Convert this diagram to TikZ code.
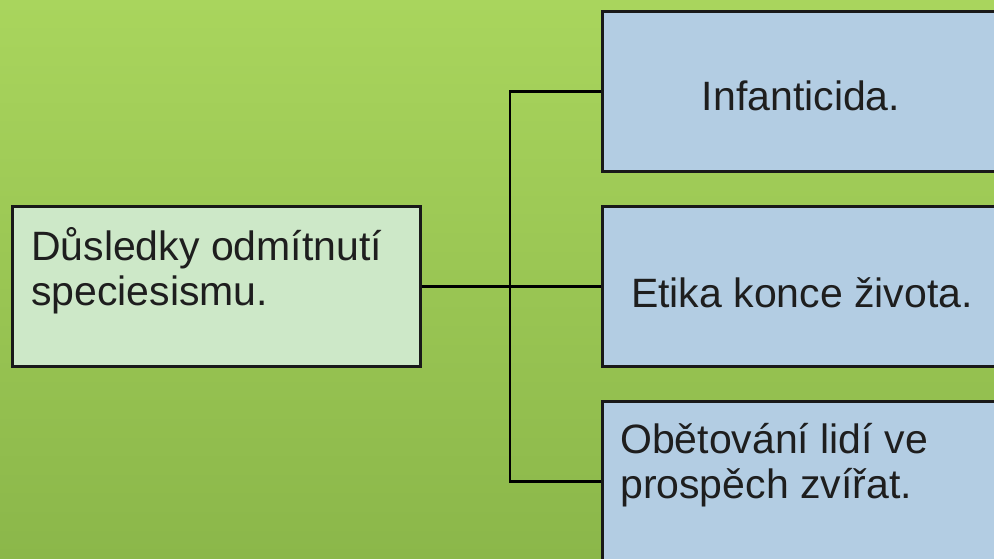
\documentclass[tikz,border=0pt]{standalone}
\usepackage{fontspec}
\setmainfont{Liberation Sans}
\usetikzlibrary{shadows}
\definecolor{bgtop}{HTML}{A9D55D}
\definecolor{bgbot}{HTML}{8BB74A}
\definecolor{leftfill}{HTML}{CDE8C8}
\definecolor{rightfill}{HTML}{B3CDE3}
\definecolor{txt}{HTML}{1E1E1E}
\tikzset{
  box/.style={draw=black!90, line width=2.6pt, inner sep=0pt, anchor=north west,
    drop shadow={shadow xshift=2pt, shadow yshift=-2pt, fill=black, opacity=0.3}},
  lbox/.style={box, fill=leftfill, minimum width=408pt, minimum height=160pt},
  rbox/.style={box, fill=rightfill, minimum width=400pt, minimum height=160pt},
  lbl/.style={inner sep=0pt, text=txt, font=\fontsize{41}{45}\selectfont},
  conn/.style={draw=black, line width=2.8pt}
}
\begin{document}
\begin{tikzpicture}[x=1pt, y=-1pt]
\useasboundingbox (0,0) rectangle (994,558);
\clip (0,0) rectangle (994,558);
\fill[top color=bgtop, bottom color=bgbot] (0,0) rectangle (994,558);

\node[lbox] (L) at (11,205) {};
\node[rbox] (B1) at (601,10) {};
\node[rbox] (B2) at (601,205) {};
\node[rbox] (B3) at (601,400) {};

\coordinate (j) at (510,285);
\draw[conn] (L.east) -- (B2.west);
\draw[conn] (B1.west) -| (j) |- (B3.west);

\node[lbl, anchor=base west] (tL) at (31,260) {\parbox[t]{390pt}{\raggedright Důsledky odmítnutí\\speciesismu.}};
\node[lbl, anchor=base] (t1) at (801,110) {Infanticida.};
\node[lbl, anchor=base] (t2) at (802,307) {Etika konce života.};
\node[lbl, anchor=base west] (t3) at (620,453) {\parbox[t]{370pt}{\raggedright Obětování lidí ve\\prospěch zvířat.}};
\end{tikzpicture}
\end{document}
